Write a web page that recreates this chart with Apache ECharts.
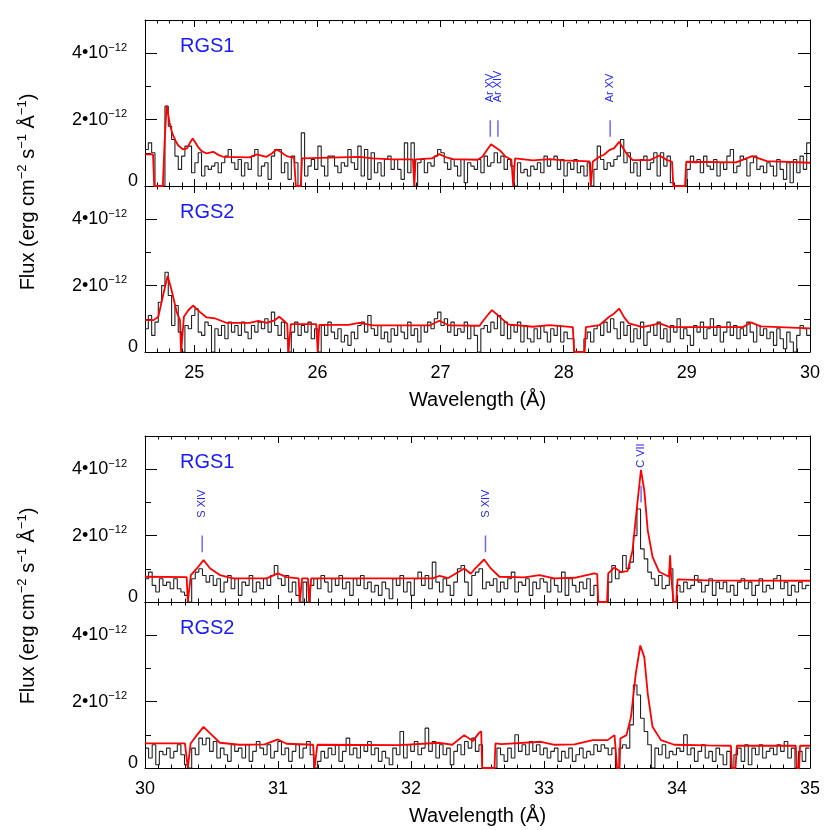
<!DOCTYPE html>
<html>
<head>
<meta charset="utf-8">
<title>RGS spectra</title>
<script src="https://cdn.jsdelivr.net/npm/echarts@6/dist/echarts.min.js"></script>
<style>
  html, body { margin: 0; padding: 0; background: #fff; }
  #chart { width: 830px; height: 830px; }
</style>
</head>
<body>
<div id="chart"></div>
<script>
// flux values in units of 1e-13 erg cm^-2 s^-1 A^-1, histogram bins of 0.027 A
const binWidth = 0.027
const startA = 24.6
const startB = 30.0

// 24.6 - 30 A
const rgs1FluxA = [
  11, 13, 10, 0, 0, 0, 24, 18, 14, 9,
  5, 9, 12, 12, 4, 7, 10, 3, 6, 5,
  6, 7, 4, 7, 9, 11, 7, 5, 8, 3,
  7, 5, 9, 11, 3, 6, 7, 2, 9, 11,
  11, 4, 7, 2, 9, 7, 0, 16, 3, 6,
  8, 5, 12, 6, 3, 9, 9, 6, 4, 7,
  6, 11, 7, 5, 12, 3, 11, 2, 10, 4,
  7, 3, 8, 9, 5, 8, 5, 2, 13, 4,
  13, 0, 7, 8, 4, 7, 6, 9, 11, 10,
  7, 5, 8, 6, 3, 8, 1, 7, 6, 5,
  8, 4, 9, 6, 7, 10, 7, 9, 5, 8,
  6, 0, 7, 4, 5, 3, 6, 5, 7, 4,
  9, 6, 8, 9, 5, 8, 3, 7, 5, 8,
  4, 6, 3, 7, 0, 5, 12, 8, 5, 7,
  6, 8, 9, 14, 7, 10, 4, 7, 3, 8,
  9, 5, 7, 10, 3, 10, 6, 9, 1, 0,
  0, 0, 0, 5, 9, 7, 8, 4, 9, 6,
  5, 8, 3, 7, 5, 9, 11, 4, 6, 9,
  8, 3, 7, 9, 5, 6, 4, 7, 6, 3,
  8, 5, 2, 7, 1, 8, 4, 9, 5, 13
]
const rgs2FluxA = [
  7, 11, 5, 9, 15, 20, 24, 17, 8, 14,
  6, 0, 8, 7, 11, 13, 6, 5, 9, 8,
  0, 7, 5, 8, 4, 9, 6, 8, 5, 9,
  6, 4, 8, 6, 9, 7, 10, 6, 12, 8,
  5, 9, 4, 0, 6, 9, 5, 8, 6, 9,
  4, 7, 0, 8, 5, 9, 6, 4, 7, 3,
  5, 2, 6, 4, 8, 9, 6, 11, 7, 5,
  8, 4, 6, 3, 7, 5, 8, 6, 4, 9,
  5, 7, 3, 8, 6, 9, 7, 10, 12, 8,
  10, 6, 9, 5, 7, 6, 9, 4, 8, 5,
  0, 7, 8, 6, 9, 7, 11, 5, 9, 4,
  8, 6, 9, 3, 8, 4, 3, 7, 4, 8,
  6, 3, 7, 5, 8, 3, 6, 4, 4, 0,
  0, 0, 4, 6, 3, 7, 8, 5, 9, 6,
  10, 7, 4, 9, 5, 8, 3, 7, 4, 9,
  2, 6, 8, 5, 9, 4, 7, 3, 8, 6,
  10, 4, 7, 5, 2, 8, 6, 9, 4, 7,
  10, 5, 8, 3, 6, 9, 5, 8, 4, 7,
  5, 9, 6, 3, 8, 5, 7, 4, 6, 2,
  7, 4, 1, 6, 3, 0, 5, 8, 7, 5
]

// 30 - 35 A
const rgs1FluxB = [
  7, 9, 5, 3, 7, 5, 6, 4, 7, 4,
  3, 2, 0, 7, 9, 10, 8, 6, 8, 5,
  7, 3, 6, 8, 4, 7, 2, 6, 5, 8,
  3, 6, 4, 7, 5, 8, 11, 7, 5, 8,
  3, 6, 2, 0, 6, 0, 5, 7, 4, 8,
  6, 3, 7, 5, 8, 4, 6, 2, 7, 5,
  8, 4, 6, 3, 5, 2, 6, 4, 1, 7,
  5, 8, 3, 6, 2, 7, 9, 5, 8, 4,
  12, 6, 3, 7, 5, 2, 6, 10, 11, 6,
  2, 8, 9, 10, 4, 6, 5, 7, 3, 6,
  4, 7, 9, 3, 6, 5, 7, 2, 6, 4,
  7, 6, 3, 7, 5, 3, 9, 2, 7, 5,
  3, 6, 4, 7, 2, 5, 0, 0, 0, 6,
  11, 7, 9, 14, 10, 12, 20, 28, 16, 13,
  9, 7, 5, 8, 4, 5, 10, 0, 5, 3,
  6, 4, 5, 8, 6, 3, 5, 7, 2, 6,
  4, 6, 3, 5, 2, 6, 7, 4, 6, 2,
  5, 7, 3, 5, 4, 7, 8, 4, 6, 2,
  5, 3, 6, 4, 5
]
const rgs2FluxB = [
  6, 3, 7, 1, 5, 4, 6, 3, 5, 7,
  4, 1, 0, 6, 4, 9, 7, 9, 5, 8,
  3, 6, 4, 2, 7, 5, 6, 3, 7, 2,
  5, 8, 6, 4, 7, 3, 5, 8, 4, 6,
  2, 5, 7, 3, 6, 8, 4, 0, 2, 5,
  3, 6, 4, 7, 2, 5, 9, 4, 6, 3,
  7, 5, 8, 4, 6, 2, 5, 3, 1, 6,
  4, 11, 3, 7, 5, 8, 4, 6, 12, 5,
  8, 3, 7, 4, 6, 1, 5, 7, 4, 8,
  6, 9, 5, 7, 0, 0, 0, 0, 6, 4,
  2, 6, 3, 10, 5, 7, 4, 8, 5, 7,
  4, 6, 3, 5, 6, 2, 5, 3, 6, 2,
  4, 6, 3, 5, 4, 7, 5, 7, 6, 4,
  6, 0, 6, 7, 6, 13, 25, 22, 15, 11,
  7, 0, 6, 4, 7, 3, 5, 4, 6, 5,
  10, 4, 6, 2, 5, 7, 3, 5, 2, 6,
  4, 1, 5, 0, 4, 6, 2, 7, 1, 6,
  4, 7, 3, 5, 6, 4, 7, 5, 8, 3,
  6, 0, 5, 2, 6
]

// model curves [wavelength, flux]
const modelRgs1A = [
  [24.60, 9.5], [24.665, 9.5], [24.675, 0], [24.745, 0], [24.76, 14], [24.776, 24.3], [24.80, 19],
  [24.82, 16], [24.85, 13.5], [24.87, 12.2], [24.91, 11], [24.94, 11.3], [24.965, 13], [24.987, 14.3],
  [25.01, 13], [25.03, 11.8], [25.06, 10.5], [25.10, 9.8], [25.154, 10.3], [25.20, 9.3], [25.235, 8.8],
  [25.45, 8.6], [25.506, 9.5], [25.587, 8.8], [25.63, 9.8], [25.668, 11.0], [25.70, 10.3], [25.75, 9.0],
  [25.81, 8.5], [25.825, 0], [25.865, 0], [25.875, 8.3], [26.34, 8.8], [26.45, 8.3], [26.61, 8.0],
  [26.776, 8.0], [26.787, 0], [26.797, 8.0], [26.93, 8.3], [26.99, 9.6], [27.05, 8.6], [27.10, 8.1],
  [27.30, 7.9], [27.34, 8.8], [27.38, 11.0], [27.41, 12.6], [27.45, 11.5], [27.48, 10.8], [27.53, 8.8],
  [27.575, 8.0], [27.59, 0], [27.605, 8.3], [27.75, 7.7], [27.885, 8.1], [28.0, 7.7], [28.21, 7.4],
  [28.22, 0], [28.237, 7.4], [28.29, 8.8], [28.33, 9.5], [28.37, 10.8], [28.41, 11.4], [28.45, 13.3],
  [28.48, 11.5], [28.51, 9.8], [28.56, 7.8], [28.70, 7.8], [28.777, 9.2], [28.84, 7.8], [28.88, 7.3],
  [28.89, 0], [28.985, 0], [28.995, 7.3], [29.40, 7.1], [29.53, 9.0], [29.65, 7.5], [30.0, 7.0]
]
const modelRgs2A = [
  [24.60, 9.6], [24.67, 9.6], [24.708, 10.6], [24.75, 17.6], [24.784, 22.9], [24.816, 18.6],
  [24.857, 12.1], [24.884, 9.6], [24.893, 0], [24.905, 0], [24.916, 10.6], [24.95, 12.5], [24.99, 14.0],
  [25.045, 12.1], [25.10, 10.4], [25.17, 10.1], [25.26, 8.8], [25.45, 8.8], [25.52, 9.4], [25.59, 8.8],
  [25.65, 9.5], [25.69, 10.6], [25.735, 9.2], [25.755, 8.5], [25.765, 0], [25.775, 0], [25.785, 8.4],
  [25.99, 8.4], [26.003, 0], [26.016, 8.2], [26.25, 8.2], [26.34, 8.8], [26.45, 8.0], [26.91, 8.0],
  [26.99, 9.4], [27.07, 8.0], [27.317, 7.9], [27.34, 9.1], [27.38, 11.0], [27.417, 12.6], [27.48, 10.6],
  [27.55, 8.3], [27.75, 7.6], [27.885, 8.1], [28.074, 7.5], [28.085, 0], [28.17, 0], [28.18, 7.5],
  [28.29, 8.1], [28.37, 10.6], [28.41, 11.6], [28.45, 13.1], [28.49, 10.5], [28.53, 8.6], [28.64, 7.5],
  [28.78, 8.6], [28.86, 7.5], [29.456, 7.5], [29.52, 8.9], [29.60, 7.7], [30.0, 7.1]
]
const modelRgs1B = [
  [30.0, 7.6], [30.313, 7.5], [30.322, 0], [30.335, 0], [30.345, 8.1], [30.39, 10.1], [30.44, 12.6],
  [30.49, 10.1], [30.563, 8.1], [30.663, 7.1], [30.914, 7.1], [31.0, 8.6], [31.064, 7.5], [31.155, 7.1],
  [31.164, 0], [31.172, 0], [31.181, 7.1], [31.225, 7.1], [31.234, 0], [31.242, 0], [31.25, 7.1],
  [32.165, 7.1], [32.215, 7.9], [32.28, 7.2], [32.40, 10.1], [32.45, 8.5], [32.48, 10.0], [32.55, 12.8],
  [32.60, 10.1], [32.665, 7.6], [32.853, 7.4], [32.965, 8.1], [33.078, 7.1], [33.23, 7.3], [33.378, 8.6],
  [33.40, 8.4], [33.408, 0], [33.474, 0], [33.483, 8.6], [33.53, 10.4], [33.578, 9.0], [33.628, 9.3],
  [33.666, 15.6], [33.699, 28.6], [33.729, 39.8], [33.754, 33.6], [33.78, 21.6], [33.816, 13.6],
  [33.866, 9.1], [33.94, 7.6], [33.948, 14.1], [33.956, 7.6], [33.974, 0], [33.995, 0], [34.004, 6.8],
  [34.23, 6.5], [35.0, 6.4]
]
const modelRgs2B = [
  [30.0, 7.4], [30.30, 7.4], [30.322, 0], [30.335, 0], [30.343, 7.4], [30.39, 9.9], [30.44, 12.4],
  [30.49, 10.4], [30.563, 7.6], [30.71, 7.0], [30.90, 7.1], [31.0, 8.6], [31.064, 7.3], [31.264, 7.0],
  [31.275, 0], [31.29, 0], [31.296, 7.0], [31.914, 6.9], [32.215, 7.6], [32.31, 7.0], [32.40, 9.9],
  [32.465, 8.1], [32.51, 10.5], [32.528, 11.1], [32.535, 0], [32.628, 0], [32.635, 7.4], [32.678, 7.2],
  [32.978, 7.9], [33.08, 7.0], [33.23, 7.1], [33.366, 8.4], [33.478, 8.4], [33.53, 9.9], [33.545, 10.5],
  [33.55, 0], [33.568, 0], [33.574, 8.9], [33.62, 9.9], [33.654, 15.4], [33.69, 28.4], [33.724, 36.9],
  [33.754, 33.4], [33.78, 22.4], [33.816, 12.4], [33.879, 8.4], [33.98, 7.0], [34.23, 6.8],
  [34.405, 6.7], [34.413, 0], [34.44, 0], [34.45, 6.7], [34.893, 6.7], [34.902, 0], [34.918, 0],
  [34.925, 6.7], [35.0, 6.7]
]

// line identifications
const lineWaveA = [27.404, 27.466, 28.377]
const lineNameA = ['Ar XV', 'Ar XIV', 'Ar XV']
const lineWaveB = [30.43, 32.56, 33.73]
const lineNameB = ['S XIV', 'S XIV', 'C VII']
const lineBaseB = [15, 15, 30]

// tick labels
const xMajorA = [25, 26, 27, 28, 29, 30]
const xMajorB = [30, 31, 32, 33, 34, 35]
const yMajor = [0, 20, 40]
const yMinor = [10, 30]
const yLabelText = ['0', '2•10', '4•10']

const FONT = '"Liberation Sans", Arial, Helvetica, sans-serif'
const BLUE = '#1a1aff'

const minorTicks = (lo, hi) => {
  const out = []
  for (let v = Math.round(lo * 10); v <= Math.round(hi * 10); v++) {
    if (v % 10 !== 0) out.push(v / 10)
  }
  return out
}

const panels = [
  { top: 20, xMin: 24.6, xMax: 30, major: xMajorA, label: 'RGS1', showX: false },
  { top: 186, xMin: 24.6, xMax: 30, major: xMajorA, label: 'RGS2', showX: true },
  { top: 436, xMin: 30, xMax: 35, major: xMajorB, label: 'RGS1', showX: false },
  { top: 602, xMin: 30, xMax: 35, major: xMajorB, label: 'RGS2', showX: true }
]

const axisLine = { show: true, onZero: false, lineStyle: { color: '#000', width: 1 } }
const noLine = { show: false, onZero: false }
const tick = (len, values) => ({ show: true, inside: true, length: len, customValues: values, lineStyle: { color: '#000', width: 1 } })

const grids = []
const xAxes = []
const yAxes = []

panels.forEach((p, g) => {
  grids.push({ left: 145, width: 665, top: p.top, height: 166, containLabel: false })
  const minor = minorTicks(p.xMin, p.xMax)
  const xb = { type: 'value', gridIndex: g, min: p.xMin, max: p.xMax, splitLine: { show: false }, axisLabel: { show: false } }
  xAxes.push({
    ...xb, position: 'bottom', axisLine, axisTick: tick(7, p.major),
    axisLabel: p.showX ? { show: true, customValues: p.major, margin: 12, fontSize: 18, color: '#000', fontFamily: FONT } : { show: false },
    name: p.showX ? 'Wavelength (Å)' : '', nameLocation: 'middle', nameGap: 38,
    nameTextStyle: { fontSize: 20, color: '#000', fontFamily: FONT }
  })
  xAxes.push({ ...xb, position: 'bottom', axisLine: noLine, axisTick: tick(3.5, minor) })
  xAxes.push({ ...xb, position: 'top', axisLine, axisTick: tick(7, p.major) })
  xAxes.push({ ...xb, position: 'top', axisLine: noLine, axisTick: tick(3.5, minor) })

  const yb = { type: 'value', gridIndex: g, min: 0, max: 50, splitLine: { show: false }, axisLabel: { show: false } }
  yAxes.push({
    ...yb, position: 'left', axisLine, axisTick: tick(12, yMajor),
    axisLabel: {
      show: true, customValues: yMajor, margin: 7, fontFamily: FONT, color: '#000',
      formatter: (v) => {
        const i = yMajor.indexOf(v)
        if (i <= 0) return '{z|0}'
        return '{b|' + yLabelText[i] + '}{s|−12}'
      },
      rich: {
        z: { fontSize: 18, fontFamily: FONT, color: '#000', padding: [0, 0, 10, 0] },
        b: { fontSize: 18, fontFamily: FONT, color: '#000', lineHeight: 22 },
        s: { fontSize: 11, fontFamily: FONT, color: '#000', verticalAlign: 'top', padding: [0, 11, 0, 0] }
      }
    }
  })
  yAxes.push({ ...yb, position: 'left', axisLine: noLine, axisTick: tick(6, yMinor) })
  yAxes.push({ ...yb, position: 'right', axisLine, axisTick: tick(12, yMajor) })
  yAxes.push({ ...yb, position: 'right', axisLine: noLine, axisTick: tick(6, yMinor) })
})

const histData = (start, values) => {
  const pts = values.map((v, i) => [start + i * binWidth, v])
  pts.push([start + values.length * binWidth, values[values.length - 1]])
  return pts
}

const series = []
const addPanel = (g, start, flux, model) => {
  series.push({
    type: 'line', xAxisIndex: 4 * g, yAxisIndex: 4 * g, step: 'end', symbol: 'none',
    data: histData(start, flux), lineStyle: { color: '#222', width: 1.1 }, z: 2, silent: true
  })
  series.push({
    type: 'line', xAxisIndex: 4 * g, yAxisIndex: 4 * g, symbol: 'none',
    data: model, lineStyle: { color: '#ff0000', width: 1.8 }, z: 3, silent: true
  })
}
addPanel(0, startA, rgs1FluxA, modelRgs1A)
addPanel(1, startA, rgs2FluxA, modelRgs2A)
addPanel(2, startB, rgs1FluxB, modelRgs1B)
addPanel(3, startB, rgs2FluxB, modelRgs2B)

const addMarkers = (g, waves, names, bases) => {
  waves.forEach((w, i) => {
    const lo = bases[i]
    series.push({
      type: 'line', xAxisIndex: 4 * g, yAxisIndex: 4 * g, symbol: 'none', silent: true, z: 4,
      data: [[w, lo], [w, lo + 5]], lineStyle: { color: '#6a6aff', width: 1.5 }
    })
  })
  series.push({
    type: 'scatter', xAxisIndex: 4 * g, yAxisIndex: 4 * g, symbolSize: 2, silent: true, z: 4,
    itemStyle: { color: 'rgba(255,255,255,0)' },
    data: waves.map((w, i) => ({ value: [w, bases[i] + 10.4], name: names[i] })),
    label: {
      show: true, position: 'inside', rotate: 90, align: 'left', verticalAlign: 'middle',
      formatter: (p) => p.name, fontSize: 11, fontFamily: FONT, color: '#2626ff',
      textBorderWidth: 0, opacity: 1
    }
  })
}
addMarkers(0, lineWaveA, lineNameA, [14.8, 14.8, 14.8])
addMarkers(2, lineWaveB, lineNameB, lineBaseB)

const yTitle = (cy) => ({
  type: 'text', x: 28, y: cy, rotation: Math.PI / 2,
  style: {
    text: 'Flux (erg cm{s|−2} s{s|−1} Å{s|−1})',
    fontSize: 20, fontFamily: FONT, fill: '#000', align: 'center', verticalAlign: 'middle', lineHeight: 24,
    rich: { s: { fontSize: 13, fontFamily: FONT, fill: '#000', verticalAlign: 'top' } }
  }
})

const graphic = [yTitle(192), yTitle(606)]
panels.forEach((p) => {
  graphic.push({
    type: 'text', x: 180, y: p.top + 26,
    style: { text: p.label, fontSize: 20, fontFamily: FONT, fill: BLUE, verticalAlign: 'middle' }
  })
})

const chart = echarts.init(document.getElementById('chart'))
chart.setOption({
  animation: false,
  backgroundColor: '#fff',
  grid: grids,
  xAxis: xAxes,
  yAxis: yAxes,
  series,
  graphic
})
</script>
</body>
</html>
